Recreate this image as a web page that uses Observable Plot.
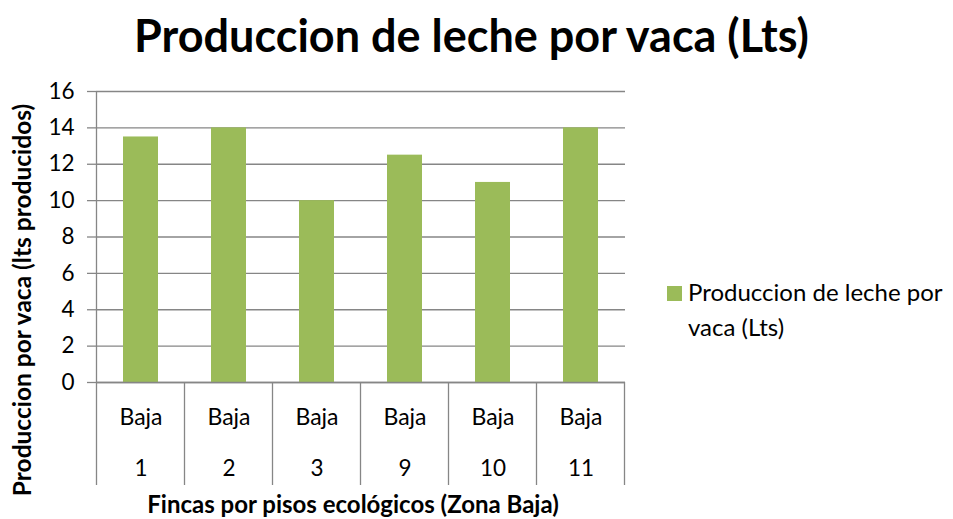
<!DOCTYPE html>
<html>
<head>
<meta charset="utf-8">
<script src="https://cdn.jsdelivr.net/npm/d3@7"></script>
<script src="https://cdn.jsdelivr.net/npm/@observablehq/plot@0.6"></script>
<style>
  html, body { margin: 0; padding: 0; background: #fff; }
  #wrap { position: relative; width: 953px; height: 519px; font-family: Lato, "Open Sans", sans-serif; color: #000; overflow: hidden; }
  #title { position: absolute; left: 0; width: 943px; top: 10px; text-align: center; font-weight: bold; font-size: 45px; line-height: 50px; }
  #chart { position: absolute; left: 0; top: 60px; }
  #ytitle { position: absolute; left: 21px; top: 300px; transform: translate(-50%, -50%) rotate(-90deg); white-space: nowrap; font-weight: bold; font-size: 24.5px; }
  #xtitle { position: absolute; left: 353px; top: 503px; transform: translate(-50%, -50%); white-space: nowrap; font-weight: bold; font-size: 24px; }
  #legend { position: absolute; left: 667px; top: 274px; font-size: 24px; line-height: 35px; }
  #legend .sw { display: inline-block; width: 15px; height: 15px; background: #9BBB59; margin-right: 6px; vertical-align: 0px; }
  #legend .l2 { padding-left: 21px; }
</style>
</head>
<body>
<div id="wrap">
  <div id="title"></div>
  <div id="chart"></div>
  <div id="ytitle"></div>
  <div id="xtitle"></div>
  <div id="legend"></div>
</div>
<script>
const titleText = "Produccion de leche por vaca (Lts)";
const yTitle = "Produccion por vaca (lts producidos)";
const xTitle = "Fincas por pisos ecológicos (Zona Baja)";
const seriesName = ["Produccion de leche por", "vaca (Lts)"];
const fincas = ["1", "2", "3", "9", "10", "11"];
const zonas = ["Baja", "Baja", "Baja", "Baja", "Baja", "Baja"];
const produccion = [13.5, 14, 10, 12.5, 11, 14];
const yTicks = [0, 2, 4, 6, 8, 10, 12, 14, 16];

const data = fincas.map((f, i) => ({finca: f, zona: zonas[i], value: produccion[i]}));

document.getElementById("title").textContent = titleText;
document.getElementById("ytitle").textContent = yTitle;
document.getElementById("xtitle").textContent = xTitle;
document.getElementById("legend").innerHTML =
  `<div><span class="sw"></span>${seriesName[0]}</div><div class="l2">${seriesName[1]}</div>`;

const grid = "#868686";
const plot = Plot.plot({
  width: 953,
  height: 459,
  marginTop: 31,
  marginBottom: 137,
  marginLeft: 96,
  marginRight: 328,
  style: {fontFamily: "Lato, 'Open Sans', sans-serif", fontSize: "22px", color: "#000", background: "transparent", overflow: "visible"},
  x: {domain: fincas, paddingInner: 0.6, paddingOuter: 0.3, axis: null},
  y: {domain: [0, 16], axis: null},
  marks: [
    Plot.gridY(yTicks, {stroke: grid, strokeOpacity: 1, strokeWidth: 1.3}),
    Plot.axisY(yTicks, {tickSize: 9, tickPadding: 13, stroke: grid, strokeWidth: 1.3, fill: "#000", fontSize: 22.5, label: null}),
    Plot.barY(data, {x: "finca", y: "value", fill: "#9BBB59"}),
    Plot.ruleY([0], {stroke: grid, strokeWidth: 1.3}),
    Plot.text(data, {x: "finca", y: 0, dy: 35, text: "zona", fontSize: 23, fill: "#000"}),
    Plot.text(data, {x: "finca", y: 0, dy: 86, text: "finca", fontSize: 22.5, fill: "#000"})
  ]
});

// Category separators (multi-level axis), positioned from Plot's own scales
const xs = plot.scale("x");
const ys = plot.scale("y");
const half = xs.step / 2;
const y0 = ys.apply(0);
const yTop = ys.apply(16);
const bottom = y0 + 103;
const svg = d3.select(plot);
const g = svg.append("g").attr("stroke", grid).attr("stroke-width", 1.3);
fincas.forEach((f, i) => {
  const cx = xs.apply(f) + xs.bandwidth / 2;
  g.append("line").attr("x1", cx - half).attr("x2", cx - half)
    .attr("y1", i === 0 ? yTop : y0).attr("y2", bottom);
  if (i === fincas.length - 1) {
    g.append("line").attr("x1", cx + half).attr("x2", cx + half)
      .attr("y1", y0).attr("y2", bottom);
  }
});

document.getElementById("chart").appendChild(plot);
</script>
</body>
</html>
